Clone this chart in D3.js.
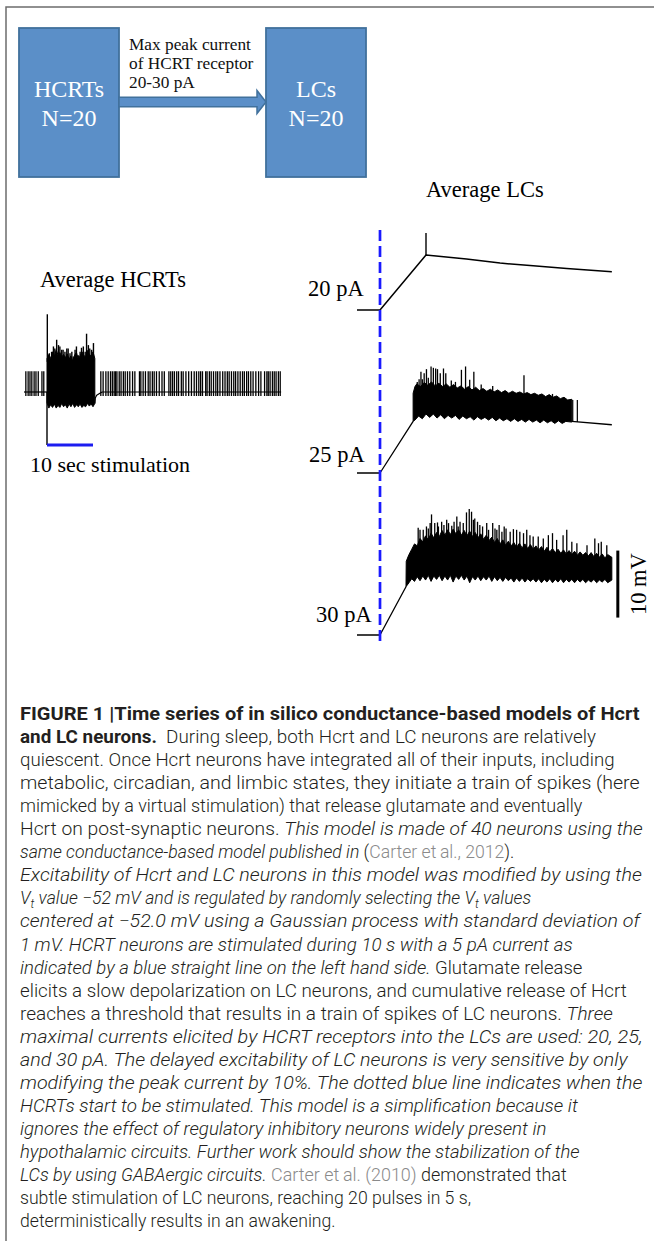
<!DOCTYPE html>
<html><head><meta charset="utf-8">
<script src="https://cdn.jsdelivr.net/npm/d3@7"></script>
<style>body{margin:0;background:#fff}svg{display:block}</style>
</head><body><svg id="c" width="654" height="1241"></svg>
<script>
// ---------------- DATA (time in s, voltage in mV above rest) ----------------
const boxLabels = [["HCRTs", "N=20"], ["LCs", "N=20"]];
const arrowLabel = ["Max peak current", "of HCRT receptor", "20-30 pA"];
const stimWindow = [0, 10];
const hcrtPreSpikes = [-4.6, -4.1, -3.7, -3.3, -2.8, -2.4, -1.9, -1.1, -0.7];
const hcrtPostSpikes = [11.7,12.2,12.8,13.3,13.8,14.2,14.6,14.9,15.2,15.7,16.1,16.6,17.0,17.5,18.0,18.6,19.1,20.1,20.4,20.9,21.4,22.0,22.4,22.9,23.3,23.8,24.4,25.0,25.5,26.5,26.9,27.3,27.7,28.2,28.6,29.2,29.6,30.2,30.8,31.4,32.0,32.5,33.0,33.4,33.8,34.5,34.8,35.3,35.7,36.2,36.7,37.1,37.6,38.2,38.7,39.2,39.6,40.1,40.6,41.0,41.5,42.0,42.5,42.9,43.4,43.8,44.3,44.8,45.4,46.0,46.5,47.3,47.8,48.1,48.5,49.0,49.4,49.8,50.3,50.7];
const hcrtSpikeRange = [-0.6, 3.1];
const hcrtRest = [[-5, 0], [0, 0]];
const hcrtRecovery = [[10.4, -1.7], [10.5, -0.9], [10.8, -0.5], [11.5, -0.2], [12, 0], [50.9, 0]];
const hcrtBurstUpper = [[0,5.0],[0.4,5.6],[0.8,5.0],[1.2,6.0],[1.6,5.3],[2.0,6.3],[2.4,5.5],[2.8,5.9],[3.2,5.2],[3.6,5.6],[4.0,5.1],[4.4,5.7],[4.8,4.9],[5.2,5.4],[5.6,4.6],[6.0,5.5],[6.4,5.9],[6.8,4.9],[7.2,5.4],[7.6,6.0],[8.0,5.5],[8.4,5.2],[8.8,6.2],[9.2,5.6],[9.6,5.4],[10.0,6.0],[10.4,5.0]];
const hcrtBurstLower = [[0,-1.6],[0.4,-2.4],[0.8,-1.9],[1.2,-2.3],[1.6,-1.8],[2.0,-2.4],[2.4,-2.0],[2.8,-2.3],[3.2,-1.7],[3.6,-2.2],[4.0,-1.9],[4.4,-2.4],[4.8,-1.8],[5.2,-2.2],[5.6,-1.7],[6.0,-2.3],[6.4,-1.9],[6.8,-2.2],[7.2,-1.8],[7.6,-2.3],[8.0,-2.0],[8.4,-2.2],[8.8,-1.7],[9.2,-2.1],[9.6,-1.8],[10.0,-2.2],[10.4,-1.7]];
const hcrtBurstPeaks = [[0.07,11.6],[0.5,5.8],[1.0,6.0],[1.4,6.8],[1.7,6.5],[2.1,7.8],[2.5,7.0],[2.8,6.8],[3.2,6.3],[3.5,6.3],[3.9,6.0],[4.3,6.5],[4.6,6.5],[5.0,5.8],[5.4,6.0],[5.7,5.3],[6.1,6.3],[6.4,6.8],[6.8,5.5],[7.2,6.0],[7.5,6.6],[7.9,6.8],[8.3,6.0],[8.6,8.7],[9.0,7.0],[9.3,6.5],[9.7,6.3],[10.1,7.3]];
const stimMarkerDepth = -7.9;

const lcLabels = ["20 pA", "25 pA", "30 pA"];
const lc20Trace = [[-5, 0], [0, 0], [10, 8.2], [18.8, 7.6], [26.1, 7.0], [33.3, 6.6], [40.6, 6.2], [50.4, 5.7]];
const lc20Spikes = [[10, 8.2, 11.5]];

const lc25Ramp = [[-5, 0], [0, 0], [7.2, 7.7]];
const lc25Upper = [[7.2,11.9],[7.6,12.9],[8.0,13.3],[8.8,12.9],[9.6,13.5],[10.4,13.1],[11.2,13.6],[12.0,13.0],[12.8,13.4],[13.6,12.9],[14.4,13.3],[15.2,12.8],[16.0,13.2],[16.8,12.7],[17.6,13.0],[18.4,12.5],[19.2,12.9],[20.0,12.4],[20.8,12.8],[21.6,12.3],[22.4,12.6],[23.2,12.2],[24.0,12.5],[24.8,12.1],[25.6,12.4],[26.4,12.0],[27.2,12.3],[28.0,11.9],[28.8,12.2],[29.6,11.9],[30.4,12.1],[31.2,11.8],[32.0,12.0],[32.8,11.7],[33.6,11.9],[34.4,11.6],[35.2,11.8],[36.0,11.4],[36.8,11.7],[37.6,11.3],[38.4,11.5],[39.2,11.1],[40.0,11.3],[40.8,10.9],[41.7,11.0]];
const lc25Lower = [[7.2,7.7],[7.6,7.9],[8.4,8.5],[9.2,8.1],[10.0,8.8],[10.8,8.3],[11.6,8.8],[12.4,8.2],[13.2,8.7],[14.0,8.1],[14.8,8.6],[15.6,8.2],[16.4,8.6],[17.2,8.0],[18.0,8.5],[18.8,8.1],[19.6,8.4],[20.4,7.9],[21.2,8.4],[22.0,8.0],[22.8,8.3],[23.6,7.9],[24.4,8.3],[25.2,7.8],[26.0,8.2],[26.8,7.8],[27.6,8.1],[28.4,7.7],[29.2,8.1],[30.0,7.7],[30.8,8.0],[31.6,7.6],[32.4,8.0],[33.2,7.6],[34.0,7.9],[34.8,7.5],[35.6,7.9],[36.4,7.5],[37.2,7.8],[38.0,7.4],[38.8,7.8],[39.6,7.4],[40.4,7.7],[41.7,7.6]];
const lc25Peaks = [[8.1,13.6],[8.5,14.0],[8.9,15.1],[9.2,14.0],[9.6,14.9],[10.1,15.5],[10.5,14.2],[11.1,15.9],[11.6,15.7],[12.1,15.6],[12.5,15.5],[13.1,14.9],[13.8,15.6],[14.3,14.9],[15.5,13.8],[16.4,13.6],[17.7,15.4],[18.6,15.9],[19.5,13.9],[20.4,15.1],[22.0,13.2],[24.5,13.0],[31.3,14.6],[37.5,11.8]];
const lc25Tail = [[41.7, 7.7], [50.4, 7.2]];
const lc25TailSpikes = [[41.9, 7.7, 10.9], [42.9, 7.6, 10.9]];

const lc30Ramp = [[-5, 0], [0, 0], [5.65, 7.2]];
const lc30Upper = [[5.65,7.2],[5.7,11.0],[6.3,12.0],[6.9,12.8],[7.5,13.6],[8.1,13.3],[8.7,14.4],[9.3,13.9],[9.9,14.8],[10.5,14.2],[11.1,15.2],[11.7,14.5],[12.3,15.3],[12.9,14.7],[13.5,15.6],[14.1,14.9],[14.7,15.7],[15.3,15.0],[15.9,15.8],[16.5,15.1],[17.1,15.7],[17.7,14.9],[18.3,15.6],[18.9,14.8],[19.5,15.5],[20.1,14.7],[20.7,15.3],[21.3,14.5],[21.9,15.1],[22.5,14.3],[23.1,14.9],[23.7,14.1],[24.3,14.6],[24.9,13.8],[25.5,14.4],[26.1,13.6],[26.7,14.2],[27.3,13.4],[27.9,14.0],[28.5,13.3],[29.1,13.8],[29.7,13.1],[30.3,13.7],[30.9,13.0],[31.5,13.6],[32.1,12.9],[32.7,13.5],[33.3,12.8],[33.9,13.3],[34.5,12.7],[35.1,13.2],[35.7,12.5],[36.3,13.1],[36.9,12.4],[37.5,12.9],[38.1,12.3],[38.7,12.8],[39.3,12.2],[39.9,12.7],[40.5,12.1],[41.1,12.6],[41.7,12.0],[42.3,12.5],[42.9,11.9],[43.5,12.4],[44.1,11.9],[44.7,12.3],[45.3,11.8],[45.9,12.3],[46.5,11.7],[47.1,12.2],[47.7,11.6],[48.3,12.1],[48.9,11.5],[49.5,12.0],[50.4,11.6]];
const lc30Lower = [[5.65,7.2],[6.3,7.8],[6.9,8.4],[7.5,8.0],[8.1,8.7],[8.7,8.1],[9.3,8.8],[9.9,8.2],[10.5,8.9],[11.1,8.0],[11.7,8.8],[12.3,8.3],[12.9,8.9],[13.5,8.1],[14.1,8.8],[14.7,8.2],[15.3,8.9],[15.9,7.9],[16.5,8.8],[17.1,8.3],[17.7,8.9],[18.3,8.2],[18.9,8.8],[19.5,7.8],[20.1,8.7],[20.7,8.2],[21.3,8.8],[21.9,8.1],[22.5,8.7],[23.1,8.2],[23.7,8.8],[24.3,8.0],[24.9,8.7],[25.5,8.1],[26.1,8.6],[26.7,8.0],[27.3,8.6],[27.9,8.1],[28.5,8.5],[29.1,7.9],[29.7,8.5],[30.3,8.0],[30.9,8.5],[31.5,7.9],[32.1,8.4],[32.7,8.0],[33.3,8.4],[33.9,7.9],[34.5,8.4],[35.1,7.8],[35.7,8.3],[36.3,7.9],[36.9,8.4],[37.5,7.8],[38.1,8.3],[38.7,7.9],[39.3,8.4],[39.9,7.8],[40.5,8.3],[41.1,7.9],[41.7,8.3],[42.3,7.8],[42.9,8.3],[43.5,7.9],[44.1,8.3],[44.7,7.8],[45.3,8.2],[45.9,7.9],[46.5,8.3],[47.1,7.8],[47.7,8.2],[48.3,7.9],[48.9,8.3],[49.5,7.8],[50.4,8.2]];
const lc30Peaks = [[6.2,11.7],[8.3,16.0],[8.7,15.7],[9.4,15.7],[10.1,16.2],[10.5,15.9],[10.9,16.7],[11.2,18.0],[11.9,16.7],[12.5,16.8],[12.7,16.2],[13.4,16.9],[13.9,16.4],[14.5,17.2],[14.9,16.7],[15.6,16.3],[16.1,16.9],[16.7,17.7],[17.0,16.2],[17.4,16.9],[18.1,16.7],[18.8,18.3],[19.4,18.8],[19.9,18.4],[20.3,17.2],[20.6,17.4],[21.2,16.9],[21.7,16.4],[22.3,16.2],[23.2,16.7],[23.6,15.7],[24.5,16.7],[25.0,15.9],[25.4,15.7],[25.9,16.4],[26.5,15.4],[27.0,16.2],[27.4,15.9],[28.3,15.4],[29.0,15.8],[29.7,15.7],[30.4,15.4],[31.2,15.2],[31.9,15.7],[32.6,14.9],[33.3,14.7],[34.4,14.7],[35.5,14.4],[36.6,14.9],[37.5,15.2],[38.4,14.2],[39.8,14.9],[40.6,15.7],[41.7,13.9],[42.8,13.7],[45.0,13.4],[46.7,14.4],[47.5,13.7],[48.1,13.9],[49.3,13.4]];
const scaleBar = {t: 51.7, from: 2.6, to: 12.6, label: "10 mV"};

const captionLines = [
  [["b", "FIGURE 1 |Time series of in silico conductance-based models of Hcrt"]],
  [["b", "and LC neurons."], ["r", "\u00a0 During sleep, both Hcrt and LC neurons are relatively"]],
  [["r", "quiescent. Once Hcrt neurons have integrated all of their inputs, including"]],
  [["r", "metabolic, circadian, and limbic states, they initiate a train of spikes (here"]],
  [["r", "mimicked by a virtual stimulation) that release glutamate and eventually"]],
  [["r", "Hcrt on post-synaptic neurons. "], ["i", "This model is made of 40 neurons using the"]],
  [["i", "same conductance-based model published in "], ["r", "("], ["g", "Carter et\u2009al., 2012"], ["r", ")."]],
  [["i", "Excitability of Hcrt and LC neurons in this model was modified by using the"]],
  [["i", "V"], ["s", "t"], ["i", " value \u221252 mV and is regulated by randomly selecting the V"], ["s", "t"], ["i", " values"]],
  [["i", "centered at \u221252.0 mV using a Gaussian process with standard deviation of"]],
  [["i", "1 mV. HCRT neurons are stimulated during 10 s with a 5 pA current as"]],
  [["i", "indicated by a blue straight line on the left hand side."], ["r", " Glutamate release"]],
  [["r", "elicits a slow depolarization on LC neurons, and cumulative release of Hcrt"]],
  [["r", "reaches a threshold that results in a train of spikes of LC neurons. "], ["i", "Three"]],
  [["i", "maximal currents elicited by HCRT receptors into the LCs are used: 20, 25,"]],
  [["i", "and 30 pA. The delayed excitability of LC neurons is very sensitive by only"]],
  [["i", "modifying the peak current by 10%. The dotted blue line indicates when the"]],
  [["i", "HCRTs start to be stimulated. This model is a simplification because it"]],
  [["i", "ignores the effect of regulatory inhibitory neurons widely present in"]],
  [["i", "hypothalamic circuits. Further work should show the stabilization of the"]],
  [["i", "LCs by using GABAergic circuits."], ["r", " "], ["g", "Carter et\u2009al. (2010)"], ["r", " demonstrated that"]],
  [["r", "subtle stimulation of LC neurons, reaching 20 pulses in 5 s,"]],
  [["r", "deterministically results in an awakening."]]
];
// layout: approximate right edge of each caption line in the reference
const captionRight = [640,596,615,640,583,643,415,642,510,640,573,583,627,613,643,628,643,578,547,580,567,425,288];

// ---------------- DRAWING ----------------
const svg = d3.select("#c");
const serif = "'Liberation Serif','Times New Roman',serif";

svg.append("path").attr("d", "M6,1241V7H654").attr("fill", "none")
  .attr("stroke", "#6c6c6c").attr("stroke-width", 1.5);

// diagram boxes
const boxFill = "#5b8fc8", boxStroke = "#41719c";
const boxX = d3.scaleOrdinal().domain([0, 1]).range([19, 266]);
const boxes = svg.selectAll("g.box").data(boxLabels).join("g").attr("class", "box")
  .attr("transform", (d, i) => `translate(${boxX(i)},28)`);
boxes.append("rect").attr("width", 100).attr("height", 149)
  .attr("fill", boxFill).attr("stroke", boxStroke).attr("stroke-width", 1.8);
boxes.selectAll("text").data(d => d).join("text")
  .attr("x", 50).attr("y", (d, i) => 69 + i * 29)
  .attr("text-anchor", "middle").attr("fill", "#fff")
  .attr("font-family", serif).attr("font-size", 24).text(d => d);

// arrow
const ax0 = 119, ax1 = 257, tip = 266, ay = 102;
svg.append("path")
  .attr("d", `M${ax0},${ay - 4.7}H${ax1}V${ay - 11.5}L${tip},${ay}L${ax1},${ay + 11.5}V${ay + 4.7}H${ax0}Z`)
  .attr("fill", boxFill).attr("stroke", boxStroke).attr("stroke-width", 1.5);
svg.selectAll("text.al").data(arrowLabel).join("text").attr("class", "al")
  .attr("x", 129).attr("y", (d, i) => 49.5 + i * 19)
  .attr("font-family", serif).attr("font-size", 17.3).attr("fill", "#111").text(d => d);

// scales
const xH = d3.scaleLinear().domain([0, 10]).range([47, 93]);
const xL = d3.scaleLinear().domain([0, 10]).range([380, 426]);
const mv = base => d3.scaleLinear().domain([0, 10]).range([base, base - 67]);
const yH = mv(392), y20 = mv(310), y25 = mv(473), y30 = mv(635);

const lineOf = (x, y) => d3.line().x(d => x(d[0])).y(d => y(d[1]));
const tr = svg.append("g");
function drawLine(data, x, y, w) {
  tr.append("path").attr("d", lineOf(x, y)(data)).attr("fill", "none")
    .attr("stroke", "#000").attr("stroke-width", w || 1.4).attr("stroke-linejoin", "round");
}
function drawBand(upper, lower, x, y) {
  tr.append("path").attr("d", lineOf(x, y)(upper.concat(lower.slice().reverse())) + "Z")
    .attr("fill", "#000").attr("stroke", "#000").attr("stroke-width", 1);
}
function drawSpikes(data, x, y, w) {
  tr.append("g").selectAll("line").data(data).join("line")
    .attr("x1", d => x(d[0])).attr("x2", d => x(d[0]))
    .attr("y1", d => y(d[1])).attr("y2", d => y(d[2]))
    .attr("stroke", "#000").attr("stroke-width", w || 1.2);
}

// ---- HCRT panel ----
svg.append("text").attr("x", 40).attr("y", 287).attr("font-family", serif)
  .attr("font-size", 22.5).text("Average HCRTs");
drawLine(hcrtRest, xH, yH, 1.2);
drawLine(hcrtRecovery, xH, yH, 1.2);
drawSpikes(hcrtPreSpikes.concat(hcrtPostSpikes).map(t => [t, hcrtSpikeRange[0], hcrtSpikeRange[1]]), xH, yH, 1.3);
drawBand(hcrtBurstUpper, hcrtBurstLower, xH, yH);
drawSpikes(hcrtBurstPeaks.map(d => [d[0], 4.5, d[1]]), xH, yH, 1.4);
drawSpikes([[stimWindow[0], 0, stimMarkerDepth]], xH, yH, 1.4);
svg.append("line").attr("x1", xH(stimWindow[0])).attr("x2", xH(stimWindow[1]))
  .attr("y1", yH(stimMarkerDepth)).attr("y2", yH(stimMarkerDepth))
  .attr("stroke", "#1c1cf0").attr("stroke-width", 3);
svg.append("text").attr("x", 30).attr("y", 471.5).attr("font-family", serif)
  .attr("font-size", 22).text("10 sec stimulation");

// ---- LC panels ----
svg.append("text").attr("x", 426).attr("y", 197).attr("font-family", serif)
  .attr("font-size", 22.5).text("Average LCs");

drawLine(lc20Trace, xL, y20, 1.5);
drawSpikes(lc20Spikes, xL, y20, 1.4);

drawLine(lc25Ramp, xL, y25, 1.3);
drawBand(lc25Upper, lc25Lower, xL, y25);
drawSpikes(lc25Peaks.map(d => [d[0], 10, d[1]]), xL, y25, 1.3);
drawLine(lc25Tail, xL, y25, 1.3);
drawSpikes(lc25TailSpikes, xL, y25, 1.2);

drawLine(lc30Ramp, xL, y30, 1.3);
drawBand(lc30Upper, lc30Lower, xL, y30);
drawSpikes(lc30Peaks.map(d => [d[0], 10, d[1]]), xL, y30, 1.3);

const lcLabelPos = [[308, y20(0) - 14], [309, y25(0) - 11.5], [316, y30(0) - 13.5]];
svg.selectAll("text.lc").data(lcLabels).join("text").attr("class", "lc")
  .attr("x", (d, i) => lcLabelPos[i][0]).attr("y", (d, i) => lcLabelPos[i][1])
  .attr("font-family", serif).attr("font-size", 22.5).text(d => d);

svg.append("line").attr("x1", xL(0)).attr("x2", xL(0)).attr("y1", 230).attr("y2", 644)
  .attr("stroke", "#1a1aff").attr("stroke-width", 2.7).attr("stroke-dasharray", "11,5");

svg.append("line").attr("x1", xL(scaleBar.t)).attr("x2", xL(scaleBar.t))
  .attr("y1", y30(scaleBar.from)).attr("y2", y30(scaleBar.to))
  .attr("stroke", "#000").attr("stroke-width", 3);
svg.append("text").attr("transform", `translate(646,${(y30(scaleBar.from) + y30(scaleBar.to)) / 2}) rotate(-90)`)
  .attr("text-anchor", "middle").attr("font-family", serif).attr("font-size", 22.5).text(scaleBar.label);

// ---- caption: each line fitted to its extent, width factor kept near the common one ----
const cap = svg.append("g").attr("font-family", "Roboto, 'Liberation Sans', sans-serif")
  .attr("font-size", 17.5).attr("fill", "#231f20");
const capTexts = captionLines.map((segs, i) => {
  const t = cap.append("text").attr("x", 0).attr("y", 0);
  segs.forEach(([s, txt], j) => {
    const sp = t.append("tspan").text(txt);
    sp.attr("font-weight", s === "b" ? 700 : 300);
    if (s === "i" || s === "s") sp.attr("font-style", "italic");
    if (s === "g") sp.attr("fill", "#8a8a8a");
    if (s === "s") sp.attr("font-size", 12).attr("dy", 4);
    else if (j > 0 && segs[j - 1][0] === "s") sp.attr("dy", -4);
  });
  return {t, k: (captionRight[i] - 20) / t.node().getComputedTextLength()};
});
const kMed = d3.median(capTexts.filter((d, i) => captionRight[i] > 590), d => d.k);
capTexts.forEach((d, i) => {
  const k = Math.max(kMed * 0.9, Math.min(kMed * 1.08, d.k));
  d.t.attr("transform", `translate(20,${720 + i * 23.05}) scale(${k},1)`);
});
</script>
</body></html>
